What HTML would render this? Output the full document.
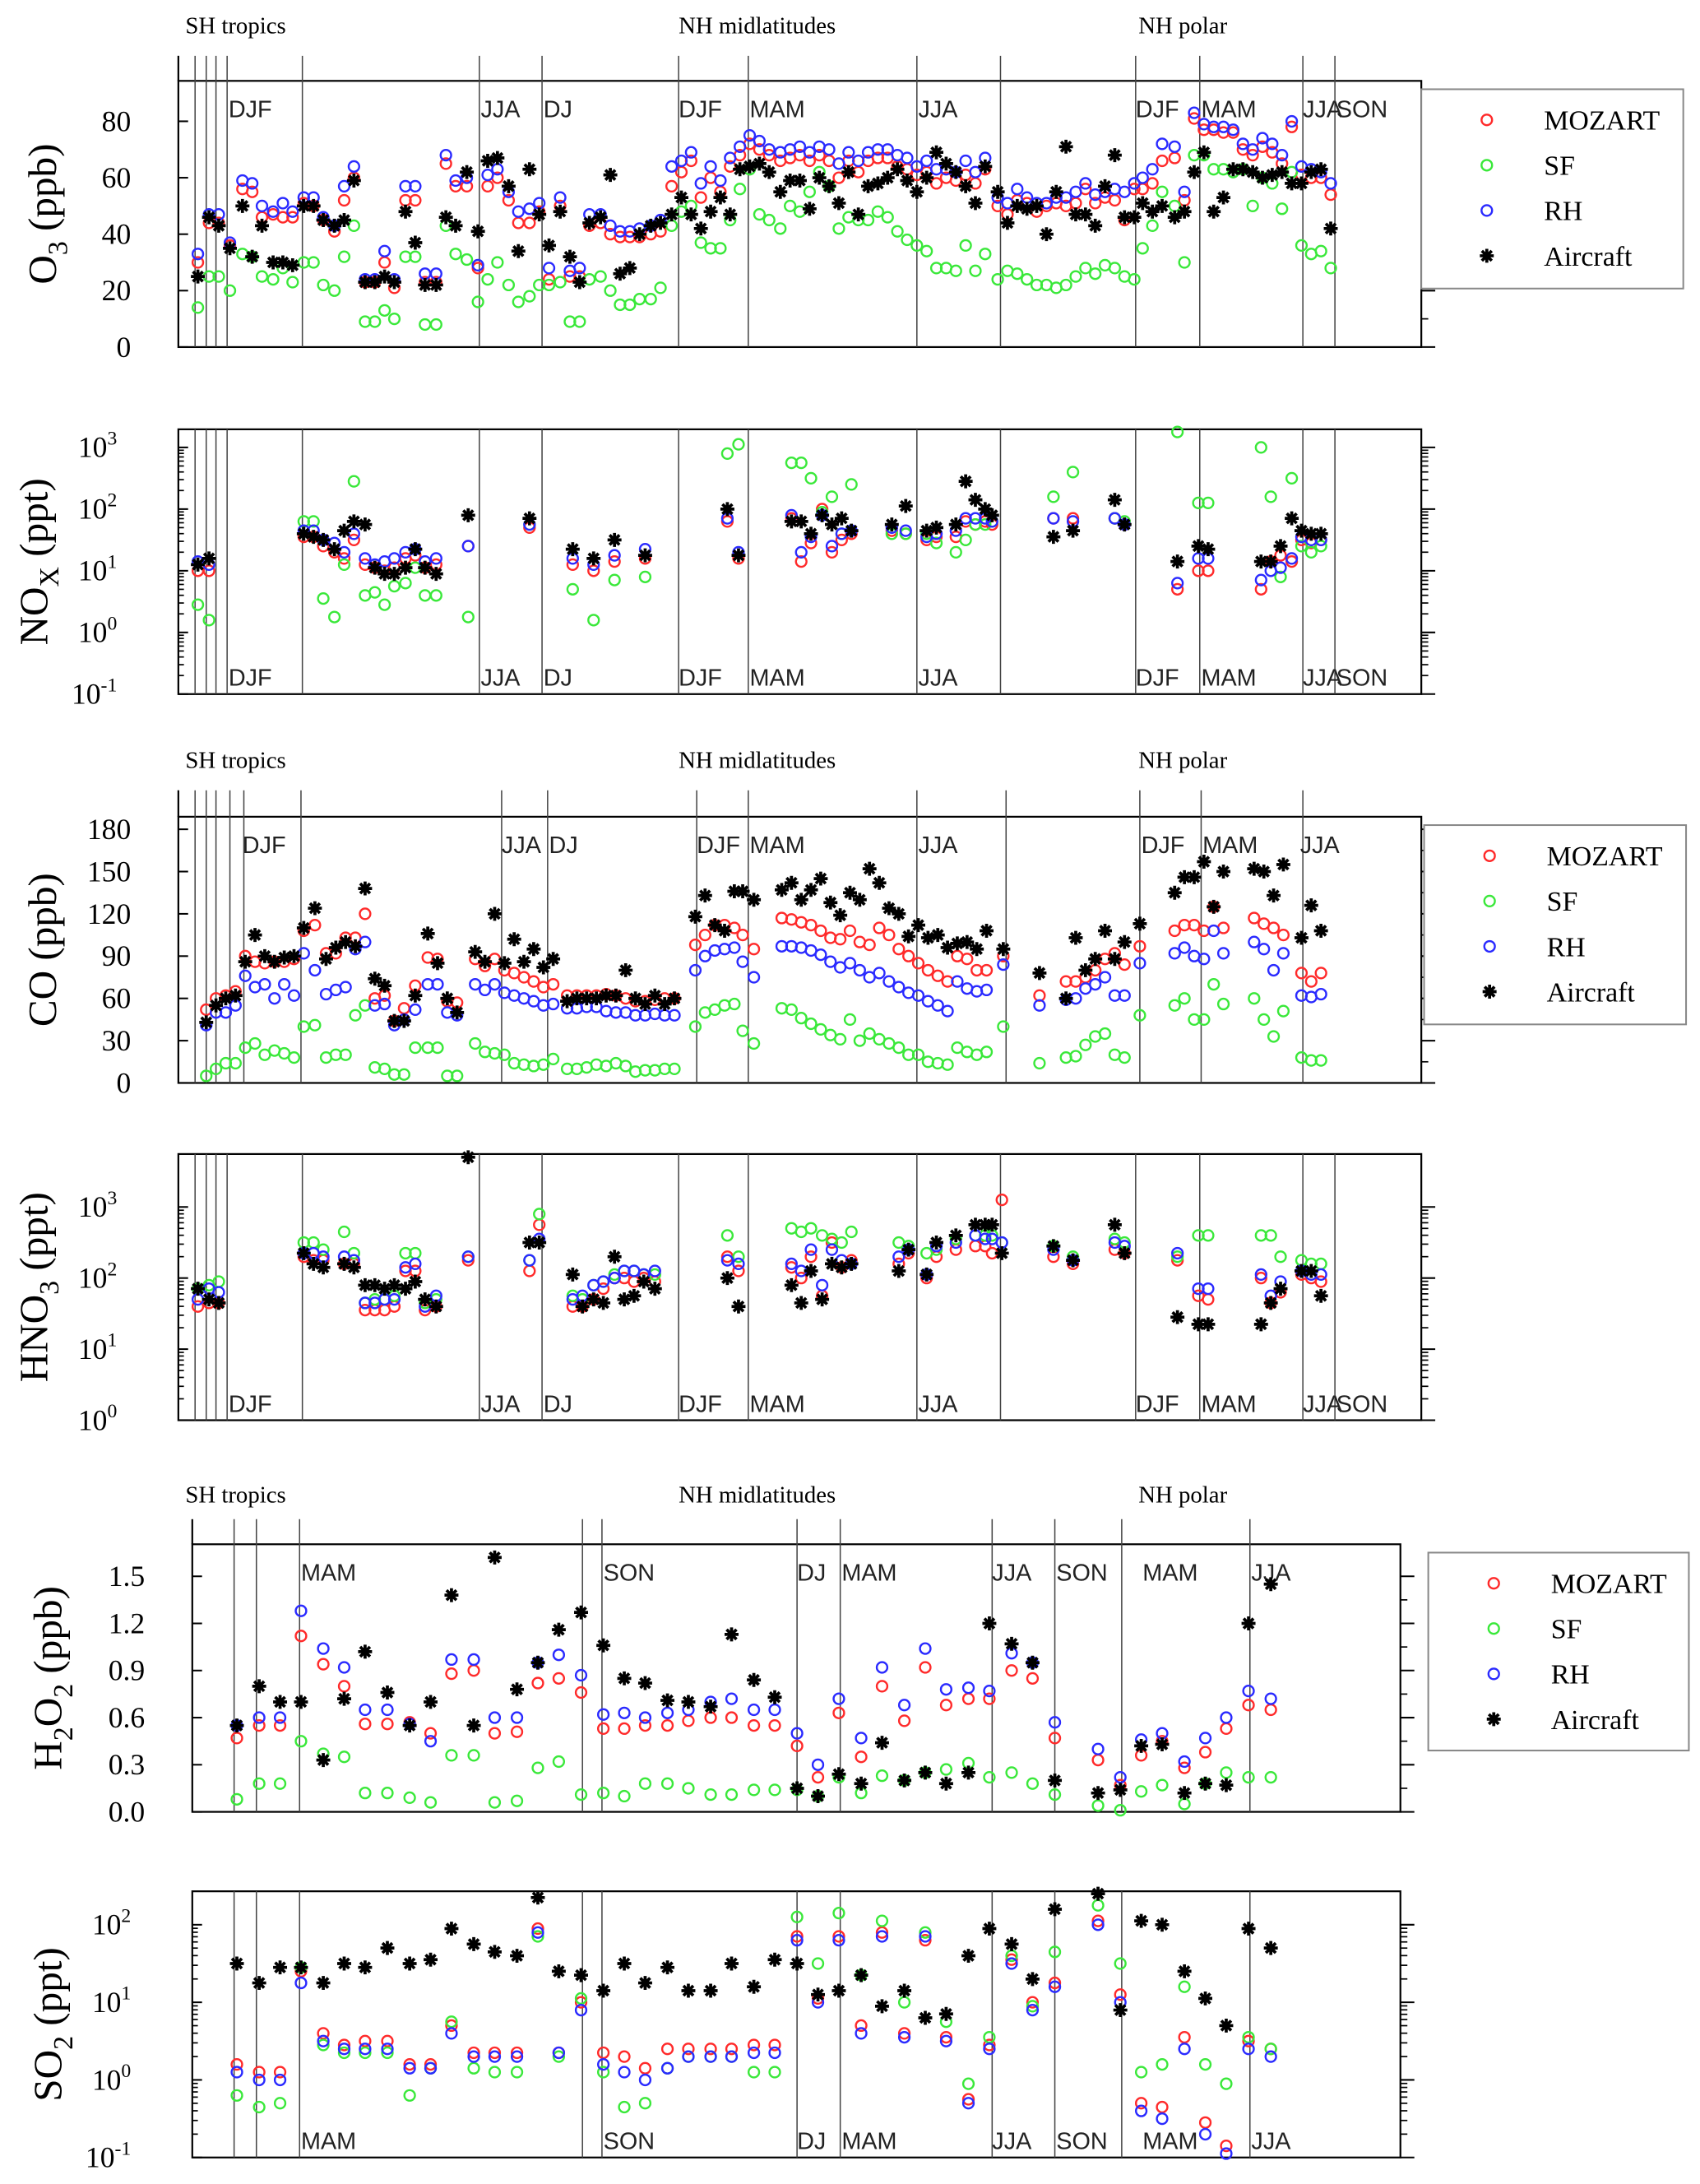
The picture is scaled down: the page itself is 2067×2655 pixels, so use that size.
<!DOCTYPE html>
<html><head><meta charset="utf-8"><style>
html,body{margin:0;padding:0;background:#fff;}
svg{display:block;}
.serif{font-family:"Liberation Serif",serif;}
.sans{font-family:"Liberation Sans",sans-serif;}
</style></head><body>
<svg id="chart" width="2067" height="2655" viewBox="0 0 1220 1567" xmlns="http://www.w3.org/2000/svg"></svg>
<script>
// ---- data (x = profile time offset, 0 at left of panel) ----
const o3X=[142,150,157,165,174,181,188,196,203,210,218,225,232,240,247,254,262,269,276,283,291,298,305,313,320,327,335,343,350,357,365,372,380,387,394,402,409,416,423,431,438,445,452,459,467,474,482,489,496,503,510,517,524,531,538,545,552,560,567,574,581,588,595,602,609,616,623,630,637,644,651,658,665,672,679,686,693,700,707,716,723,730,737,744,751,758,765,772,779,786,793,800,807,814,820,827,834,843,850,857,864,871,878,885,892,899,906,913,920,927,934,941,948,955];
const o3Moz=[30,44,44,36,56,55,46,47,46,46,51,50,45,41,52,60,23,23,30,21,52,52,23,23,65,57,57,28,57,60,52,44,44,48,24,50,25,25,43,44,40,39,39,39,40,41,57,62,66,53,60,55,64,68,72,70,68,66,67,68,66,68,66,60,66,62,66,67,67,64,63,61,62,58,60,59,61,58,63,50,47,52,51,48,50,51,50,51,56,51,53,52,45,56,56,58,66,67,52,81,77,77,76,76,70,68,71,69,65,78,61,60,60,54];
const o3SF=[14,25,25,20,33,32,25,24,28,23,30,30,22,20,32,43,9,9,13,10,32,32,8,8,43,33,31,16,24,30,22,16,18,22,22,23,9,9,24,25,20,15,15,17,17,21,43,48,50,37,35,35,45,56,63,47,45,42,50,48,55,62,57,42,46,45,45,48,46,41,38,36,34,28,28,27,36,27,33,24,27,26,24,22,22,21,22,25,28,26,29,28,25,24,35,43,55,50,30,68,68,63,63,62,63,50,60,58,49,62,36,33,34,28];
const o3RH=[33,47,47,37,59,58,50,48,51,48,53,53,46,43,57,64,24,24,34,24,57,57,26,26,68,59,60,29,61,63,55,48,49,51,28,53,27,28,47,47,43,41,41,42,43,45,64,66,69,58,64,59,67,71,75,73,70,69,70,71,69,71,70,65,69,66,69,70,70,68,67,64,66,63,63,62,66,62,67,53,51,56,53,51,51,53,53,55,58,54,55,56,55,58,60,63,72,71,55,83,79,78,78,77,72,70,74,72,68,80,64,63,62,58];
const o3Air=[25,46,43,35,50,32,43,30,30,29,50,50,45,43,45,59,23,23,25,23,48,37,22,22,46,43,62,41,66,67,57,34,63,47,36,48,32,23,44,46,61,26,28,40,43,44,47,53,47,42,48,53,47,63,64,65,62,55,59,59,49,60,57,51,62,47,57,58,60,63,59,55,60,69,65,62,57,51,64,55,44,50,49,50,40,55,71,47,47,43,57,68,46,46,51,48,50,46,48,62,69,48,53,63,63,62,60,61,62,58,58,62,63,42];

const noxX=[142,150,218,225,232,240,247,254,262,269,276,283,291,298,305,313,336,380,411,426,441,463,522,530,568,575,582,590,597,604,611,640,650,665,672,686,693,700,707,712,756,770,800,807,845,860,867,905,912,919,927,934,941,948];
const noxMozLog10=[1.0,1.0,1.55,1.55,1.4,1.3,1.2,1.5,1.1,1.05,1.0,1.05,1.2,1.25,1.05,1.1,1.4,1.7,1.1,1.0,1.15,1.2,1.8,1.2,1.85,1.15,1.45,2.0,1.3,1.5,1.6,1.65,1.6,1.5,1.55,1.55,1.8,1.75,1.8,1.75,1.85,1.85,1.85,1.75,0.7,1.0,1.0,0.7,1.15,1.25,1.15,1.5,1.45,1.5];
const noxSFLog10=[0.45,0.2,1.8,1.8,0.55,0.25,1.1,2.45,0.6,0.65,0.45,0.75,0.8,1.05,0.6,0.6,0.25,1.75,0.7,0.2,0.85,0.9,2.9,3.05,2.75,2.75,2.5,1.95,2.2,1.6,2.4,1.6,1.6,1.6,1.45,1.3,1.5,1.75,1.75,1.8,2.2,2.6,1.85,1.8,3.25,2.1,2.1,3.0,2.2,0.9,2.5,1.4,1.3,1.4];
const noxRHLog10=[1.15,1.1,1.65,1.65,1.5,1.45,1.3,1.6,1.2,1.1,1.15,1.2,1.3,1.35,1.15,1.2,1.4,1.75,1.2,1.1,1.25,1.35,1.85,1.3,1.9,1.3,1.55,1.9,1.4,1.6,1.65,1.7,1.65,1.55,1.6,1.65,1.85,1.85,1.85,1.8,1.85,1.8,1.85,1.75,0.8,1.2,1.2,0.85,1.0,1.05,1.2,1.55,1.5,1.5];
const noxAirLog10=[1.1,1.2,1.6,1.55,1.5,1.35,1.65,1.8,1.75,1.05,0.95,0.95,1.05,1.35,1.05,0.95,1.9,1.85,1.35,1.2,1.5,1.25,2.0,1.25,1.8,1.8,1.6,1.9,1.75,1.85,1.65,1.75,2.05,1.65,1.7,1.75,2.45,2.15,2.0,1.9,1.55,1.65,2.15,1.75,1.15,1.4,1.35,1.15,1.15,1.4,1.85,1.65,1.6,1.6];

const coX=[148,155,162,169,176,183,190,197,204,211,218,226,234,241,248,255,262,269,276,283,290,298,307,314,321,328,341,348,355,362,369,376,383,390,397,407,414,421,428,435,442,449,456,463,470,477,484,499,506,513,520,527,533,541,561,568,575,582,589,596,603,610,617,624,631,638,645,652,659,666,673,680,687,694,701,708,720,746,765,772,779,786,793,800,807,818,843,850,857,864,871,878,900,907,914,921,934,941,948];
const coMoz=[52,60,62,65,90,86,85,86,86,88,108,112,92,92,103,103,120,60,62,44,53,69,89,88,58,57,88,83,88,80,78,75,72,68,70,62,62,62,62,63,62,60,58,58,59,60,60,98,105,112,112,110,105,95,117,116,114,112,108,103,102,108,100,98,110,105,95,90,85,80,76,72,90,88,80,80,90,62,72,72,75,80,88,92,84,97,108,112,112,108,125,110,117,113,110,105,78,72,78];
const coSF=[5,10,14,14,25,28,20,23,21,18,40,41,18,20,20,48,55,11,10,6,6,25,25,25,5,5,28,22,21,20,14,13,12,13,17,10,10,11,13,12,14,12,8,9,9,10,10,40,50,52,55,56,37,28,53,52,46,42,38,34,31,45,30,35,31,28,25,20,20,15,14,13,25,22,20,22,40,14,18,19,27,33,35,20,18,48,55,60,45,45,70,56,60,45,33,51,18,16,16];
const coRH=[41,50,50,55,76,68,70,60,70,62,92,80,63,66,68,95,100,55,56,41,45,52,70,70,50,48,70,66,70,64,62,60,58,55,56,53,53,54,54,51,50,50,48,48,49,48,48,80,90,94,95,96,86,75,97,97,96,94,91,86,82,85,80,75,78,72,68,64,62,58,55,51,72,67,65,66,84,55,59,60,67,70,75,62,62,85,92,96,90,88,108,92,100,95,80,92,62,61,63];
const coAir=[43,55,60,62,86,105,90,86,89,90,110,124,88,96,100,97,138,74,69,44,44,62,106,85,60,50,93,86,120,85,102,86,95,82,88,58,60,60,60,62,62,80,60,56,62,56,60,118,133,112,108,136,136,130,137,142,130,137,145,128,119,135,130,152,142,124,120,104,112,103,105,96,99,100,95,108,95,78,60,103,80,88,108,88,100,113,135,146,146,157,125,150,152,150,133,155,103,126,108];

const hno3X=[142,150,157,218,225,232,247,254,262,269,276,283,291,298,305,313,336,380,387,411,418,426,433,441,448,455,462,470,522,530,568,575,582,590,597,604,611,645,652,665,672,686,700,707,712,719,756,770,800,807,845,860,867,905,912,919,934,941,948];
const hno3MozLog10=[1.6,1.65,1.65,2.3,2.25,2.25,2.2,2.2,1.55,1.55,1.55,1.6,2.1,2.1,1.55,1.6,2.25,2.1,2.75,1.6,1.6,1.7,1.85,2.0,2.0,1.95,2.0,1.95,2.3,2.1,2.15,2.0,2.3,1.75,2.5,2.15,2.25,2.2,2.35,2.0,2.3,2.4,2.45,2.45,2.35,3.1,2.3,2.2,2.4,2.35,2.25,1.75,1.7,2.0,1.65,1.8,2.05,2.0,1.95];
const hno3SFLog10=[1.85,1.9,1.95,2.5,2.5,2.4,2.65,2.35,1.65,1.7,1.7,1.75,2.35,2.35,1.65,1.7,2.3,2.25,2.9,1.75,1.7,1.9,1.95,2.05,2.1,2.1,2.05,2.05,2.6,2.3,2.7,2.65,2.7,2.6,2.55,2.5,2.65,2.5,2.45,2.35,2.4,2.55,2.6,2.6,2.6,2.5,2.45,2.3,2.55,2.5,2.3,2.6,2.6,2.6,2.6,2.3,2.25,2.2,2.2];
const hno3RHLog10=[1.7,1.85,1.8,2.35,2.35,2.3,2.3,2.25,1.65,1.65,1.7,1.7,2.15,2.2,1.6,1.75,2.3,2.25,2.55,1.7,1.75,1.9,1.95,2.0,2.1,2.1,2.05,2.1,2.25,2.2,2.2,2.1,2.4,1.9,2.4,2.25,2.2,2.3,2.4,2.05,2.45,2.5,2.6,2.55,2.55,2.5,2.4,2.25,2.5,2.45,2.35,1.85,1.85,2.05,1.75,1.95,2.1,2.05,2.05];
const hno3AirLog10=[1.85,1.7,1.65,2.35,2.2,2.15,2.2,2.15,1.9,1.9,1.85,1.9,1.85,1.95,1.7,1.6,3.7,2.5,2.5,2.05,1.6,1.7,1.65,2.3,1.7,1.75,1.95,1.85,2.0,1.6,1.9,1.65,2.1,1.7,2.2,2.15,2.2,2.1,2.4,2.05,2.5,2.6,2.75,2.75,2.75,2.35,2.45,2.25,2.75,2.35,1.45,1.35,1.35,1.35,1.65,1.85,2.1,2.1,1.75];

const h2o2X=[170,186,201,216,232,247,262,278,294,309,324,340,355,371,386,401,417,433,448,463,479,494,510,525,541,556,572,587,602,618,633,649,664,679,695,710,726,741,757,788,804,819,834,850,865,880,896,912];
const h2o2Moz=[0.47,0.55,0.55,1.12,0.94,0.8,0.56,0.56,0.57,0.5,0.88,0.9,0.5,0.51,0.82,0.85,0.76,0.53,0.53,0.55,0.55,0.58,0.6,0.6,0.55,0.55,0.42,0.22,0.63,0.35,0.8,0.58,0.92,0.68,0.72,0.72,0.9,0.85,0.47,0.33,0.17,0.36,0.45,0.28,0.38,0.53,0.68,0.65];
const h2o2SF=[0.08,0.18,0.18,0.45,0.37,0.35,0.12,0.12,0.09,0.06,0.36,0.36,0.06,0.07,0.28,0.32,0.11,0.12,0.1,0.18,0.18,0.15,0.11,0.11,0.14,0.14,0.14,0.1,0.22,0.12,0.23,0.2,0.25,0.27,0.31,0.22,0.25,0.18,0.11,0.04,0.01,0.13,0.17,0.05,0.18,0.25,0.22,0.22];
const h2o2RH=[0.55,0.6,0.6,1.28,1.04,0.92,0.65,0.65,0.56,0.45,0.97,0.97,0.6,0.6,0.95,1.0,0.87,0.62,0.63,0.6,0.63,0.65,0.7,0.72,0.65,0.65,0.5,0.3,0.72,0.47,0.92,0.68,1.04,0.78,0.79,0.77,1.01,0.95,0.57,0.4,0.22,0.46,0.5,0.32,0.47,0.6,0.77,0.72];
const h2o2Air=[0.55,0.8,0.7,0.7,0.33,0.72,1.02,0.76,0.55,0.7,1.38,0.55,1.62,0.78,0.95,1.16,1.27,1.06,0.85,0.82,0.71,0.7,0.67,1.13,0.84,0.73,0.15,0.1,0.24,0.18,0.44,0.2,0.25,0.18,0.25,1.2,1.07,0.95,0.2,0.12,0.14,0.42,0.43,0.12,0.18,0.17,1.2,1.45];

const so2X=h2o2X.slice();
const so2MozLog10=[0.2,0.1,0.1,1.4,0.6,0.45,0.5,0.5,0.2,0.2,0.7,0.35,0.35,0.35,1.95,0.35,1.0,0.35,0.3,0.15,0.4,0.4,0.4,0.4,0.45,0.45,1.85,1.05,1.85,0.7,1.9,0.6,1.8,0.55,-0.25,0.45,1.55,1.0,1.25,2.05,1.1,-0.3,-0.35,0.55,-0.55,-0.85,0.5,0.4];
const so2SFLog10=[-0.2,-0.35,-0.3,1.45,0.45,0.35,0.35,0.35,-0.2,0.15,0.75,0.15,0.1,0.1,1.85,0.3,1.05,0.1,-0.35,-0.3,0.15,0.3,0.3,0.3,0.1,0.1,2.1,1.5,2.15,1.35,2.05,1.0,1.9,0.75,-0.05,0.55,1.6,0.95,1.65,2.25,1.5,0.1,0.2,1.2,0.2,-0.05,0.55,0.4];
const so2RHLog10=[0.1,0.0,0.0,1.25,0.5,0.4,0.4,0.4,0.15,0.15,0.6,0.3,0.3,0.3,1.9,0.35,0.9,0.2,0.1,0.0,0.15,0.3,0.3,0.3,0.35,0.35,1.8,1.0,1.8,0.6,1.85,0.55,1.85,0.5,-0.3,0.4,1.5,0.9,1.2,2.0,1.0,-0.4,-0.5,0.4,-0.7,-0.95,0.4,0.3];
const so2AirLog10=[1.5,1.25,1.45,1.45,1.25,1.5,1.45,1.7,1.5,1.55,1.95,1.75,1.65,1.6,2.35,1.4,1.35,1.15,1.5,1.25,1.45,1.15,1.15,1.5,1.2,1.55,1.5,1.1,1.15,1.35,0.95,1.15,0.8,0.85,1.6,1.95,1.75,1.3,2.2,2.4,0.9,2.05,2.0,1.4,1.05,0.7,1.95,1.7];

const o3Ticks=[0,20,40,60,80];
const noxTicks=[-1,0,1,2,3];
const coTicks=[0,30,60,90,120,150,180];
const hno3Ticks=[0,1,2,3];
const h2o2Ticks=[0.0,0.3,0.6,0.9,1.2,1.5];
const so2Ticks=[-1,0,1,2];
const legendNames=["MOZART","SF","RH","Aircraft"];
const regionNames=["SH tropics","NH midlatitudes","NH polar"];

// ---- drawing ----
const NS="http://www.w3.org/2000/svg";
const svg=document.getElementById('chart');
function mk(tag,attrs,parent){const e=document.createElementNS(NS,tag);for(const k in attrs)e.setAttribute(k,attrs[k]);(parent||svg).appendChild(e);return e;}
const COL={moz:"#ff2a2a",sf:"#3ae83a",rh:"#2a2aff",air:"#000"};

function makeScale(d0,d1,r0,r1){return v=>r0+(v-d0)/(d1-d0)*(r1-r0);}
const xScale=makeScale(0,1000,0,1000);

function drawCircle(g,x,y,c){
  const e=mk('circle',{cx:x,cy:y,r:3.8,fill:'none',stroke:c,'stroke-width':1.4},g);
  
  
}
function drawStar(g,x,y){
  const r=5;let d='';
  for(let a=0;a<4;a++){const t=a*Math.PI/4;d+=`M${x-r*Math.cos(t)},${y-r*Math.sin(t)}L${x+r*Math.cos(t)},${y+r*Math.sin(t)}`;}
  const e=mk('path',{d:d,stroke:'#000','stroke-width':2.2},g);
  
  
}

function panel(p){
  const g=mk('g',{});
  
  
  const ys=makeScale(p.d0,p.d1,p.yb,p.yt);
  const fr=mk('rect',{x:p.x0,y:p.yt0,width:p.x1-p.x0,height:p.yb-p.yt0,fill:'none',stroke:'#000','stroke-width':1.3},g);
  
  
  if(p.topExt){mk('line',{x1:p.x0,y1:p.topExt,x2:p.x0,y2:p.yt0,stroke:'#000','stroke-width':1.3},g);}
  p.vlines.forEach(v=>{
    const l=mk('line',{x1:v,y1:p.topExt||p.yt0,x2:v,y2:p.yb,stroke:'#444','stroke-width':0.9},g);
    
    
  });
  p.seasons.forEach(s=>{
    const t=mk('text',{x:s[1],y:p.seasonTop?p.yt0+26:p.yb-6,'font-size':17,class:'sans',fill:'#222'},g);
    t.textContent=s[0];
    
    
  });
  if(p.regionY){
    regionNames.forEach((r,i)=>{
      const t=mk('text',{x:p.regionX[i],y:p.regionY,'font-size':17,class:'serif'},g);
      t.textContent=r;
      
      
    });
  }
  p.ticks.forEach(v=>{
    const y=ys(v);
    mk('line',{x1:p.x0,y1:y,x2:p.x0+7,y2:y,stroke:'#000','stroke-width':1.2},g);
    mk('line',{x1:p.x1,y1:y,x2:p.x1+10,y2:y,stroke:'#000','stroke-width':1.2},g);
    const t=mk('text',{x:p.x0-32,y:y+7,'font-size':21,class:'serif','text-anchor':'end'},g);
    
    
    if(p.log){t.textContent='10';const s=mk('tspan',{dy:-9,'font-size':14},t);s.textContent=String(v);}
    else t.textContent=p.fmt?v.toFixed(1):String(v);
    if(p.log){t.setAttribute('x',p.x0-44);}
    else t.setAttribute('x',p.x0-34);
  });
  if(p.log){
    for(let e=p.d0;e<p.d1;e++)for(let m=2;m<10;m++){const y=ys(e+Math.log10(m));
      mk('line',{x1:p.x1,y1:y,x2:p.x1+5,y2:y,stroke:'#000','stroke-width':1},g);
      mk('line',{x1:p.x0,y1:y,x2:p.x0+4,y2:y,stroke:'#000','stroke-width':1},g);}
  } else {
    for(let i=0;i<p.ticks.length-1;i++){const y=ys((p.ticks[i]+p.ticks[i+1])/2);
      mk('line',{x1:p.x1,y1:y,x2:p.x1+5,y2:y,stroke:'#000','stroke-width':1},g);}
  }
  const yt=mk('text',{x:0,y:0,'font-size':29,class:'serif','text-anchor':'middle',transform:`translate(${p.titleX},${(p.yt0+p.yb)/2}) rotate(-90)`},g);
  
  
  p.title.forEach(seg=>{
    const a={};
    if(seg[1]){a.dy=seg[1];}
    a['font-size']=seg[2]?20:29;
    const s=mk('tspan',a,yt);s.textContent=seg[0];});
  const series=[[p.moz,COL.moz,'mozart'],[p.sf,COL.sf,'sf'],[p.rh,COL.rh,'rh']];
  series.forEach(s=>{
    const sg=mk('g',{},g);
    
    
    p.xs.forEach((xv,i)=>{const v=s[0][i];if(v==null)return;const y=ys(v);if(y>p.yb+2||y<p.yt0-2)return;drawCircle(sg,xScale(xv),y,s[1]);});
  });
  const ag=mk('g',{},g);
  
  
  p.xs.forEach((xv,i)=>{const v=p.air[i];if(v==null)return;drawStar(ag,xScale(xv),ys(v));});
  if(p.legend){
    const L=p.legend;
    const lg=mk('g',{},g);
    
    
    mk('rect',{x:L[0],y:L[1],width:L[2],height:L[3],fill:'#fff',stroke:'#888','stroke-width':1.2},lg);
    const cols=[COL.moz,COL.sf,COL.rh];
    legendNames.forEach((n,i)=>{
      const cy=L[1]+22+i*32.5;
      const e=mk('g',{},lg);
      
      
      if(i<3)drawCircle(e,L[0]+47,cy,cols[i]);else drawStar(e,L[0]+47,cy);
      const t=mk('text',{x:L[0]+88,y:cy+7,'font-size':20,class:'serif'},e);t.textContent=n;
    });
  }
}

const vA=[140,148,155,163,217,344,389,487,537,658,718,815,861,935,958];
const sA=[["DJF",164],["JJA",345],["DJ",390],["DJF",487],["MAM",538],["JJA",659],["DJF",815],["MAM",862],["JJA",935],["SON",959]];
const vB=[140,148,155,165,175,216,360,393,500,537,658,722,818,862,935];
const sB=[["DJF",174],["JJA",360],["DJ",394],["DJF",500],["MAM",538],["JJA",659],["DJF",819],["MAM",863],["JJA",933]];
const vC=[168,184,215,418,432,572,603,712,757,805,897];
const sC=[["MAM",216],["SON",433],["DJ",572],["MAM",604],["JJA",712],["SON",758],["MAM",820],["JJA",898]];

panel({name:'o3-panel',x0:128,x1:1020,yt0:58,topExt:40,yb:249,yt:87,d0:0,d1:80,ticks:o3Ticks,vlines:vA,seasons:sA,seasonTop:true,
  regionY:24,regionX:[133,487,817],title:[["O"],["3",8,1],[" (ppb)",-8]],titleX:40,
  xs:o3X,moz:o3Moz,sf:o3SF,rh:o3RH,air:o3Air,legend:[1020,64,188,143]});
panel({name:'nox-panel',x0:128,x1:1020,yt0:308,yb:498,yt:321,d0:-1,d1:3,log:true,ticks:noxTicks,vlines:vA,seasons:sA,seasonTop:false,
  title:[["NO"],["X",8,1],[" (ppt)",-8]],titleX:34,xs:noxX,moz:noxMozLog10,sf:noxSFLog10,rh:noxRHLog10,air:noxAirLog10});
panel({name:'co-panel',x0:128,x1:1020,yt0:586,topExt:567,yb:777,yt:595,d0:0,d1:180,ticks:coTicks,vlines:vB,seasons:sB,seasonTop:true,
  regionY:551,regionX:[133,487,817],title:[["CO (ppb)"]],titleX:40,
  xs:coX,moz:coMoz,sf:coSF,rh:coRH,air:coAir,legend:[1022,592,188,143]});
panel({name:'hno3-panel',x0:128,x1:1020,yt0:828,yb:1019,yt:866,d0:0,d1:3,log:true,ticks:hno3Ticks,vlines:vA,seasons:sA,seasonTop:false,
  title:[["HNO"],["3",8,1],[" (ppt)",-8]],titleX:34,xs:hno3X,moz:hno3MozLog10,sf:hno3SFLog10,rh:hno3RHLog10,air:hno3AirLog10});
panel({name:'h2o2-panel',x0:138,x1:1005,yt0:1108,topExt:1090,yb:1300,yt:1131,d0:0,d1:1.5,fmt:true,ticks:h2o2Ticks,vlines:vC,seasons:sC,seasonTop:true,
  regionY:1078,regionX:[133,487,817],title:[["H"],["2",8,1],["O",-8],["2",8,1],[" (ppb)",-8]],titleX:44,
  xs:h2o2X,moz:h2o2Moz,sf:h2o2SF,rh:h2o2RH,air:h2o2Air,legend:[1025,1114,187,142]});
panel({name:'so2-panel',x0:138,x1:1005,yt0:1357,yb:1548,yt:1381,d0:-1,d1:2,log:true,ticks:so2Ticks,vlines:vC,seasons:sC,seasonTop:false,
  title:[["SO"],["2",8,1],[" (ppt)",-8]],titleX:44,xs:so2X,moz:so2MozLog10,sf:so2SFLog10,rh:so2RHLog10,air:so2AirLog10});
</script>
</body></html>
